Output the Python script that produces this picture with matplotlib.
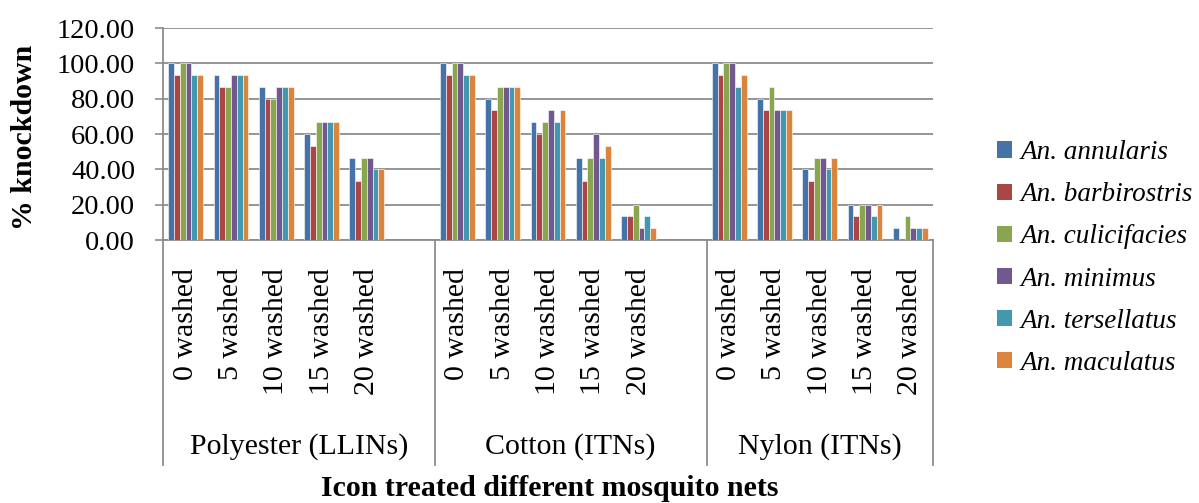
import matplotlib
matplotlib.use("Agg")
import matplotlib.pyplot as plt
import numpy as np
from matplotlib.patches import Patch

plt.rcParams['font.family'] = ['Liberation Serif', 'DejaVu Serif']

nets = ["Polyester (LLINs)", "Cotton (ITNs)", "Nylon (ITNs)"]
washes = ["0 washed", "5 washed", "10 washed", "15 washed", "20 washed"]
species = ["An. annularis", "An. barbirostris", "An. culicifacies",
           "An. minimus", "An. tersellatus", "An. maculatus"]
colors = ["#4572A7", "#AA4643", "#89A54E", "#71588F", "#4198AF", "#DB843D"]

# % knockdown, one list per species; order: net -> wash level
annularis = [100, 93.33, 86.67, 60.00, 46.67,
             100, 80.00, 66.67, 46.67, 13.33,
             100, 80.00, 40.00, 20.00, 6.67]
barbirostris = [93.33, 86.67, 80.00, 53.33, 33.33,
                93.33, 73.33, 60.00, 33.33, 13.33,
                93.33, 73.33, 33.33, 13.33, 0.00]
culicifacies = [100, 86.67, 80.00, 66.67, 46.67,
                100, 86.67, 66.67, 46.67, 20.00,
                100, 86.67, 46.67, 20.00, 13.33]
minimus = [100, 93.33, 86.67, 66.67, 46.67,
           100, 86.67, 73.33, 60.00, 6.67,
           100, 73.33, 46.67, 20.00, 6.67]
tersellatus = [93.33, 93.33, 86.67, 66.67, 40.00,
               93.33, 86.67, 66.67, 46.67, 13.33,
               86.67, 73.33, 40.00, 13.33, 6.67]
maculatus = [93.33, 93.33, 86.67, 66.67, 40.00,
             93.33, 86.67, 73.33, 53.33, 6.67,
             93.33, 73.33, 46.67, 20.00, 6.67]
series = [annularis, barbirostris, culicifacies, minimus, tersellatus, maculatus]

W, H = 1199, 503
fig = plt.figure(figsize=(W / 100, H / 100), dpi=100)
ax = fig.add_axes([163 / W, 1 - 240 / H, (933 - 163) / W, (240 - 28) / H])

# category slots: each net gets 5 wash levels followed by one empty slot
n_w = len(washes)
pos = np.array([g * (n_w + 1) + i for g in range(len(nets)) for i in range(n_w)], float)

n_s = len(species)
group_w = 0.77
bw = group_w / n_s
for k, (vals, c) in enumerate(zip(series, colors)):
    ax.bar(pos - group_w / 2 + bw * (k + 0.5), vals, width=bw, color=c,
           edgecolor="white", linewidth=0.4, zorder=3)

ax.set_xlim(-0.5, pos[-1] + 0.5)
ax.set_ylim(0, 120)
ax.set_yticks(np.arange(0, 121, 20))
ax.set_yticklabels([f"{v:.2f}" for v in np.arange(0, 121, 20)], fontsize=20.5)
ax.yaxis.grid(True, color="#8c8c8c", linewidth=1.3, zorder=0)
ax.tick_params(axis="y", length=6, width=1.2, color="#8c8c8c", pad=14)

for s in ["top", "right"]:
    ax.spines[s].set_visible(False)
ax.spines["left"].set_color("#8c8c8c")
ax.spines["left"].set_linewidth(1.3)
ax.spines["bottom"].set_color("#8c8c8c")
ax.spines["bottom"].set_linewidth(1.3)

ax.set_xticks(pos)
ax.set_xticklabels(washes * len(nets), rotation=90, fontsize=21.5, va="top")
ax.tick_params(axis="x", length=0, pad=20)

# separators and net labels under the categories
trans = ax.get_xaxis_transform()
edges = [-0.5] + [g * (n_w + 1) - 0.5 for g in range(1, len(nets))] + [pos[-1] + 0.5]
for e in edges:
    ax.plot([e, e], [0, -1.06], transform=trans, color="#8c8c8c",
            linewidth=1.3, clip_on=False, zorder=5)
for g, name in enumerate(nets):
    lo = edges[g]
    hi = edges[g + 1]
    ax.text((lo + hi) / 2, -0.976, name, transform=trans, ha="center",
            va="center", fontsize=21.5)

fig.text(550 / W, 1 - 488 / H, "Icon treated different mosquito nets",
         ha="center", va="center", fontsize=21.5, fontweight="bold")
fig.text(25 / W, 1 - 137 / H, "% knockdown", rotation=90, ha="center",
         va="center", fontsize=21.5, fontweight="bold")

handles = [Patch(facecolor=c, edgecolor="none") for c in colors]
leg = fig.legend(handles, species, loc="center left",
                 bbox_to_anchor=(997 / W, 1 - 258 / H), frameon=False,
                 prop={"style": "italic", "size": 19.5},
                 handlelength=0.57, handleheight=0.57, handletextpad=0.28,
                 labelspacing=0.63, borderaxespad=0, borderpad=0)

fig.savefig("out.png", dpi=100)
